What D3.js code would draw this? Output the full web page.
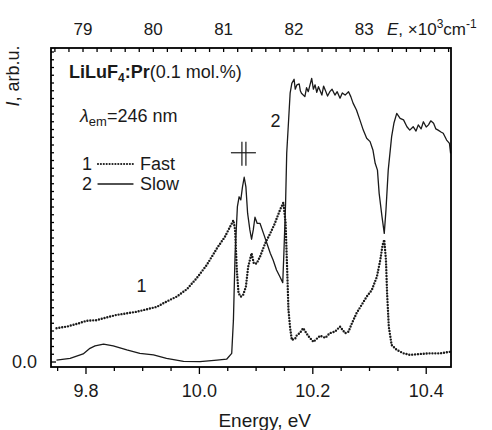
<!DOCTYPE html>
<html>
<head>
<meta charset="utf-8">
<script src="https://cdn.jsdelivr.net/npm/d3@7"></script>
<style>
  body { margin: 0; background: #fff; }
  svg text { font-family: "Liberation Sans", Arial, sans-serif; fill: #1a1a1a; }
</style>
</head>
<body>
<svg id="chart"></svg>
<script>
// ---- data ----
const slowEnergy = [9.748, 9.772, 9.795, 9.807, 9.816, 9.831, 9.848, 9.872, 9.895, 9.919, 9.942, 9.972,
  10.001, 10.031, 10.048, 10.057, 10.060, 10.063, 10.067, 10.070, 10.073, 10.076, 10.079, 10.082,
  10.085, 10.089, 10.092, 10.095, 10.098, 10.102, 10.107, 10.113, 10.119, 10.125, 10.130, 10.136,
  10.142, 10.147, 10.149, 10.152, 10.154, 10.157, 10.160, 10.163, 10.167, 10.169, 10.172, 10.176,
  10.178, 10.180, 10.186, 10.189, 10.192, 10.198, 10.201, 10.204, 10.207, 10.210, 10.216, 10.219,
  10.222, 10.226, 10.230, 10.234, 10.239, 10.243, 10.248, 10.252, 10.257, 10.263, 10.267, 10.271,
  10.277, 10.283, 10.289, 10.295, 10.301, 10.306, 10.310, 10.314, 10.317, 10.322, 10.326, 10.329,
  10.333, 10.339, 10.343, 10.348, 10.354, 10.360, 10.366, 10.371, 10.377, 10.382, 10.386, 10.391,
  10.395, 10.400, 10.404, 10.408, 10.413, 10.417, 10.421, 10.426, 10.430, 10.436, 10.441, 10.443];
const slowIntensity = [0.006, 0.012, 0.026, 0.044, 0.052, 0.058, 0.052, 0.039, 0.028, 0.023, 0.012, 0.002,
  0.001, 0.006, 0.009, 0.028, 0.135, 0.352, 0.501, 0.533, 0.523, 0.565, 0.596, 0.565,
  0.480, 0.426, 0.396, 0.426, 0.467, 0.447, 0.447, 0.415, 0.383, 0.351, 0.329, 0.297,
  0.275, 0.256, 0.351, 0.513, 0.674, 0.770, 0.867, 0.899, 0.912, 0.880, 0.894, 0.897,
  0.875, 0.867, 0.856, 0.885, 0.872, 0.915, 0.880, 0.894, 0.870, 0.888, 0.861, 0.890,
  0.877, 0.858, 0.872, 0.880, 0.861, 0.872, 0.851, 0.868, 0.861, 0.872, 0.856, 0.835,
  0.813, 0.781, 0.748, 0.722, 0.711, 0.684, 0.641, 0.619, 0.544, 0.469, 0.415, 0.490,
  0.619, 0.727, 0.770, 0.802, 0.786, 0.781, 0.759, 0.748, 0.759, 0.745, 0.765, 0.752,
  0.775, 0.758, 0.765, 0.778, 0.770, 0.752, 0.748, 0.742, 0.738, 0.716, 0.705, 0.673];

const fastEnergy = [9.748, 9.757, 9.766, 9.784, 9.801, 9.819, 9.837, 9.854, 9.872, 9.889, 9.907, 9.925,
  9.942, 9.960, 9.978, 9.995, 10.013, 10.031, 10.045, 10.054, 10.060, 10.063, 10.066, 10.069,
  10.073, 10.077, 10.082, 10.086, 10.092, 10.096, 10.101, 10.107, 10.116, 10.125, 10.133, 10.142,
  10.148, 10.152, 10.155, 10.157, 10.160, 10.163, 10.169, 10.172, 10.177, 10.183, 10.192, 10.201,
  10.213, 10.222, 10.230, 10.239, 10.248, 10.257, 10.263, 10.269, 10.277, 10.286, 10.295, 10.304,
  10.313, 10.319, 10.323, 10.326, 10.329, 10.331, 10.334, 10.339, 10.348, 10.360, 10.371, 10.389,
  10.407, 10.424, 10.442];
const fastIntensity = [0.109, 0.112, 0.114, 0.123, 0.133, 0.135, 0.144, 0.152, 0.157, 0.162, 0.170, 0.178,
  0.195, 0.211, 0.235, 0.270, 0.313, 0.367, 0.404, 0.436, 0.457, 0.426, 0.297, 0.222,
  0.211, 0.216, 0.243, 0.307, 0.351, 0.318, 0.318, 0.340, 0.383, 0.415, 0.447, 0.490,
  0.514, 0.450, 0.287, 0.170, 0.110, 0.071, 0.076, 0.087, 0.093, 0.109, 0.084, 0.065,
  0.085, 0.078, 0.093, 0.098, 0.114, 0.093, 0.098, 0.125, 0.157, 0.184, 0.211, 0.232,
  0.275, 0.329, 0.377, 0.394, 0.329, 0.222, 0.114, 0.055, 0.039, 0.028, 0.023, 0.026,
  0.028, 0.028, 0.033];

const bottomTickLabels = [9.8, 10.0, 10.2, 10.4];
const topTickLabels = [79, 80, 81, 82, 83];   // x10^3 cm^-1
const curveLabels = [
  { text: "1", energy: 9.898, intensity: 0.226 },
  { text: "2", energy: 10.134, intensity: 0.758 }
];

// ---- layout ----
const width = 492, height = 430;
const margin = { top: 48, right: 41, bottom: 63, left: 51 };
const innerWidth = width - margin.left - margin.right;
const innerHeight = height - margin.top - margin.bottom;
const evToKcm = 8.06554;
const ink = "#1a1a1a";
const frameInk = "#000";

const svg = d3.select("#chart").attr("width", width).attr("height", height);
const g = svg.append("g").attr("transform", `translate(${margin.left},${margin.top})`);

const x = d3.scaleLinear().domain([9.7383, 10.4437]).range([0, innerWidth]);
const xTop = d3.scaleLinear().domain(x.domain().map(d => d * evToKcm)).range([0, innerWidth]);
const y = d3.scaleLinear().domain([-0.0161, 1.0129]).range([innerHeight, 0]);

// ---- tick marks ----
const bottomMinor = d3.range(9.75, 10.44, 0.05).map(d => +d.toFixed(2));
const topMinor = d3.range(78.6, 84.25, 0.2).map(d => +d.toFixed(1));
const leftMinor = d3.range(0, 1.01, 0.025).map(d => +d.toFixed(3));

const ticks = g.append("g").attr("stroke", frameInk).attr("stroke-width", 1.3);
ticks.selectAll("line.tb").data(bottomMinor).join("line").attr("class", "tb")
  .attr("x1", d => x(d)).attr("x2", d => x(d))
  .attr("y1", innerHeight).attr("y2", d => innerHeight + (bottomTickLabels.some(v => Math.abs(v - d) < 1e-6) ? 7 : 4));
ticks.selectAll("line.tt").data(topMinor).join("line").attr("class", "tt")
  .attr("x1", d => xTop(d)).attr("x2", d => xTop(d))
  .attr("y1", 0).attr("y2", 4);
ticks.selectAll("line.tl").data(leftMinor).join("line").attr("class", "tl")
  .attr("x1", 0).attr("x2", d => d === 0 ? 5 : 3)
  .attr("y1", d => y(d)).attr("y2", d => y(d));

// ---- tick labels ----
g.selectAll("text.lb").data(bottomTickLabels).join("text").attr("class", "lb")
  .attr("x", d => x(d)).attr("y", innerHeight + 30)
  .attr("text-anchor", "middle").attr("font-size", "18px")
  .text(d => d3.format(".1f")(d));
g.selectAll("text.lt").data(topTickLabels).join("text").attr("class", "lt")
  .attr("x", d => xTop(d)).attr("y", -13)
  .attr("text-anchor", "middle").attr("font-size", "17px")
  .text(d => d);
g.append("text").attr("x", -14).attr("y", y(0)).attr("dy", "0.35em")
  .attr("text-anchor", "end").attr("font-size", "18px").text(d3.format(".1f")(0));

// ---- curves ----
const line = d3.line().x(d => x(d[0])).y(d => y(d[1]));
const slow = slowEnergy.map((e, i) => [e, slowIntensity[i]]);
const fast = fastEnergy.map((e, i) => [e, fastIntensity[i]]);

g.append("path").datum(fast).attr("d", line)
  .attr("fill", "none").attr("stroke", ink).attr("stroke-width", 2.4)
  .attr("stroke-linecap", "round").attr("stroke-dasharray", "0 2.9");
g.append("path").datum(slow).attr("d", line)
  .attr("fill", "none").attr("stroke", ink).attr("stroke-width", 1.3)
  .attr("stroke-linejoin", "round");

g.selectAll("text.curve-label").data(curveLabels).join("text")
  .attr("class", "curve-label")
  .attr("x", d => x(d.energy)).attr("y", d => y(d.intensity))
  .attr("text-anchor", "middle").attr("font-size", "18px")
  .text(d => d.text);

// break mark above the slow peak
const brk = g.append("g").attr("transform", `translate(${x(10.0785)},${y(0.675)})`)
  .attr("stroke", ink).attr("stroke-width", 1.2);
brk.append("line").attr("x1", -13).attr("x2", 12).attr("y1", 0).attr("y2", 0);
brk.append("line").attr("x1", -2).attr("x2", -2).attr("y1", -11).attr("y2", 13);
brk.append("line").attr("x1", 2).attr("x2", 2).attr("y1", -11).attr("y2", 13);

// ---- annotations ----
const sample = g.append("text").attr("x", 18).attr("y", 30).attr("font-size", "18px");
sample.append("tspan").attr("font-weight", "bold").text("LiLuF");
sample.append("tspan").attr("font-weight", "bold").attr("font-size", "12px").attr("dy", 4).text("4");
sample.append("tspan").attr("font-weight", "bold").attr("dy", -4).text(":Pr");
sample.append("tspan").text("(0.1 mol.%)");

const lam = g.append("text").attr("x", 29).attr("y", 74).attr("font-size", "18px");
lam.append("tspan").attr("font-style", "italic").text("λ");
lam.append("tspan").attr("font-size", "13px").attr("dy", 4).text("em");
lam.append("tspan").attr("dy", -4).text("=246 nm");

const legendRows = [
  { num: "1", label: "Fast", dash: "0 2.9", width: 2.2 },
  { num: "2", label: "Slow", dash: null, width: 1.3 }
];
const leg = g.selectAll("g.legend-row").data(legendRows).join("g")
  .attr("class", "legend-row")
  .attr("transform", (d, i) => `translate(31,${122 + i * 20})`);
leg.append("text").attr("x", 0).attr("y", 0).attr("font-size", "18px").text(d => d.num);
leg.append("line").attr("x1", 16).attr("x2", 51).attr("y1", -6).attr("y2", -6)
  .attr("stroke", ink).attr("stroke-width", d => d.width)
  .attr("stroke-linecap", "round").attr("stroke-dasharray", d => d.dash);
leg.append("text").attr("x", 58).attr("y", 0).attr("font-size", "18px").text(d => d.label);

// frame on top
g.append("rect").attr("x", 0).attr("y", 0)
  .attr("width", innerWidth).attr("height", innerHeight)
  .attr("fill", "none").attr("stroke", frameInk).attr("stroke-width", 1.8);

// axis titles
svg.append("text").attr("x", margin.left + x(10.1152)).attr("y", 427)
  .attr("text-anchor", "middle").attr("font-size", "19px").text("Energy, eV");

const yTitle = svg.append("text").attr("transform", "translate(19,76) rotate(-90)")
  .attr("text-anchor", "middle").attr("font-size", "18px");
yTitle.append("tspan").attr("font-style", "italic").text("I");
yTitle.append("tspan").text(", arb.u.");

const topTitle = svg.append("text").attr("x", 387).attr("y", 35).attr("font-size", "17px");
topTitle.append("tspan").attr("font-style", "italic").text("E");
topTitle.append("tspan").text(", ×10");
topTitle.append("tspan").attr("font-size", "12px").attr("dy", -7).text("3");
topTitle.append("tspan").attr("dy", 7).text("cm");
topTitle.append("tspan").attr("font-size", "12px").attr("dy", -7).text("-1");
</script>
</body>
</html>
